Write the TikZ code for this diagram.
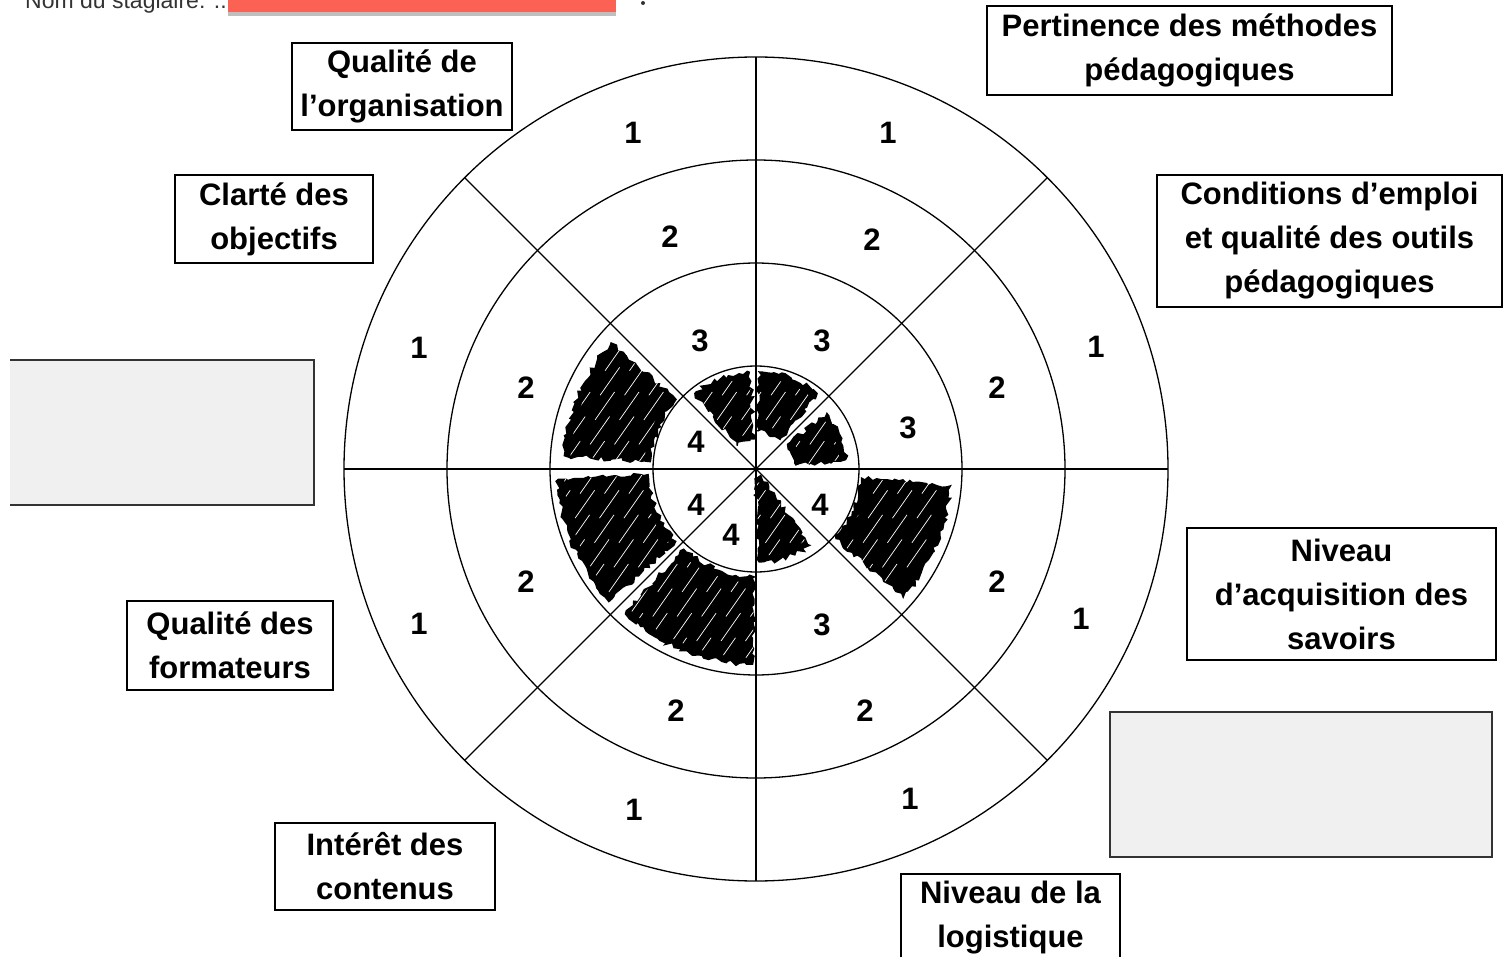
\documentclass[tikz,border=0pt]{standalone}
\usepackage{fontspec}
\setmainfont{Liberation Sans}
\usetikzlibrary{decorations.pathmorphing}
\definecolor{redact}{RGB}{252,98,84}

\begin{document}
\begin{tikzpicture}[x=1pt, y=-1pt]
    \tikzset{
        rating box/.style = {draw, line width=1.3pt, align=center, inner sep=0pt,
                             font=\fontsize{31}{44}\selectfont\bfseries},
        score/.style      = {inner sep=0pt, font=\fontsize{31}{31}\selectfont\bfseries},
        ring/.style       = {line width=1.3pt},
        blank/.style      = {fill=black!6},
        scribble/.style   = {fill=black, draw=black, line width=1.5pt, decorate,
                             decoration={random steps, segment length=4pt, amplitude=2.5pt}},
        streak/.style     = {white, line width=0.7pt, dash pattern=on 34pt off 26pt}
    }
    \useasboundingbox (0,0) rectangle (1510,957);

    % header line, cut by the top edge
    \node[anchor=base west, inner sep=0pt, text=black!80, font=\fontsize{23}{23}\selectfont]
        (trainee) at (25,9) {Nom du stagiaire: ..};
    \fill[black!25] (228,10) rectangle (616,16);
    \fill[redact] (228,0) rectangle (616,12);
    \fill[black!80] (643,3) circle[radius=2];

    % target: angles counted anticlockwise
    \begin{scope}[shift={(756,469)}, y=1pt]
        \pgfmathsetseed{12}
        \foreach \a/\b/\ri/\ro in {139/176/106/192, 94/129/30/97, 51/88/38/97,
                                   6/38/40/90, 272/305/8/93, 319/355/106/195,
                                   183/222/108/198, 228/269/108/195}
        {
            \path[scribble] (\a:\ro) arc[start angle=\a, end angle=\b, radius=\ro]
                -- (\b:\ri) arc[start angle=\b, end angle=\a, radius=\ri] -- cycle;
            \begin{scope}
                \clip (\a:\ro-6) arc[start angle=\a, end angle=\b, radius=\ro-6]
                    -- (\b:\ri+6) arc[start angle=\b, end angle=\a, radius=\ri+6] -- cycle;
                \foreach \k in {-200,-190,...,200}
                    \draw[streak, rotate=-35, dash phase=\k*2.3] (\k,-420) -- (\k,420);
            \end{scope}
        }
        \coordinate (C) at (0,0);
        \foreach \r in {103,206,309,412}
            \draw[ring] (C) circle[radius=\r];
        \foreach \t in {0,45,...,315}
            \draw[ring] (C) -- (\t:412);
    \end{scope}

    % scores
    \foreach \x/\y/\n [count=\i] in {633/133/1, 888/133/1, 1096/347/1, 1081/619/1,
                                     910/799/1, 634/810/1, 419/624/1, 419/348/1,
                                     670/237/2, 872/240/2, 997/388/2, 997/582/2,
                                     865/711/2, 676/711/2, 526/582/2, 526/388/2,
                                     700/341/3, 822/341/3, 908/428/3, 822/625/3,
                                     696/442/4, 696/505/4, 731/535/4, 820/505/4}
        \node[score] (score\i) at (\x,\y) {\n};

    % criteria
    \node[rating box, minimum width=220pt, minimum height=87pt] (organisation) at (402,86.5)
        {Qualité de\\l’organisation};
    \node[rating box, minimum width=405pt, minimum height=89pt] (methodes) at (1189.5,50.5)
        {Pertinence des méthodes\\pédagogiques};
    \node[rating box, minimum width=198pt, minimum height=88pt] (objectifs) at (274,219)
        {Clarté des\\objectifs};
    \node[rating box, minimum width=345pt, minimum height=132pt] (outils) at (1329.5,241)
        {Conditions d’emploi\\et qualité des outils\\pédagogiques};
    \node[rating box, minimum width=309pt, minimum height=132pt] (savoirs) at (1341.5,594)
        {Niveau\\d’acquisition des\\savoirs};
    \node[rating box, minimum width=206pt, minimum height=89pt] (formateurs) at (230,645.5)
        {Qualité des\\formateurs};
    \node[rating box, minimum width=220pt, minimum height=87pt] (contenus) at (385,866.5)
        {Intérêt des\\contenus};
    \node[rating box, minimum width=219pt, minimum height=87pt] (logistique) at (1010.5,917.5)
        {Niveau de la\\logistique};

    % blanked boxes
    \fill[blank] (10,360) rectangle (314,505);
    \draw[line width=1.3pt, black!80] (10,360) -- (314,360) -- (314,505) -- (10,505);
    \draw[blank, line width=1.3pt, draw=black!80] (1110,712) rectangle (1492,857);
\end{tikzpicture}
\end{document}
